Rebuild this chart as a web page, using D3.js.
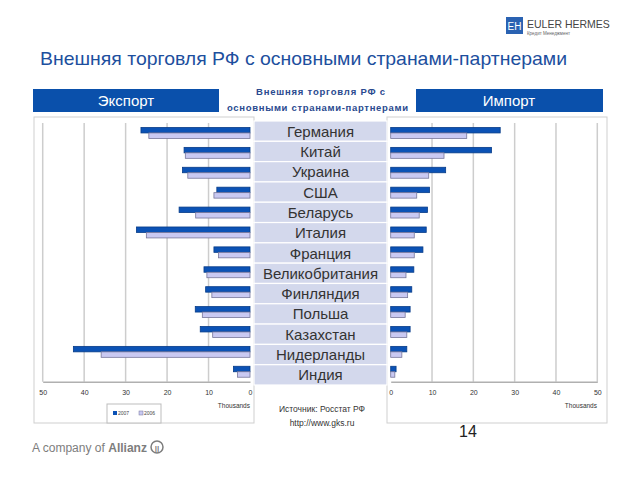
<!DOCTYPE html>
<html><head><meta charset="utf-8">
<script src="https://cdn.jsdelivr.net/npm/d3@7"></script>
<style>body{margin:0;background:#fff}svg{display:block;font-family:Arial,"Liberation Sans",sans-serif}</style>
</head><body>
<script>
const countries = ["Германия","Китай","Украина","США","Беларусь","Италия","Франция","Великобритания","Финляндия","Польша","Казахстан","Нидерланды","Индия"];
const export2007 = [26.3,15.9,16.3,8.0,17.1,27.4,8.7,11.1,10.7,13.2,12.0,42.6,4.0];
const export2006 = [24.4,15.6,15.0,8.7,13.1,25.0,7.6,10.4,9.2,11.5,9.0,35.9,3.0];
const import2007 = [26.5,24.4,13.3,9.4,8.9,8.6,7.8,5.6,5.1,4.7,4.7,3.9,1.3];
const import2006 = [18.4,12.9,9.2,6.3,6.9,5.7,5.7,3.7,4.1,3.5,3.9,2.7,1.0];
const years = ["2007","2006"];
const tickValues = [0,10,20,30,40,50];

const W=640,H=480;
const svg=d3.select("body").append("svg").attr("width",W).attr("height",H);
const c07="#0b52b5", c06="#c9c9f2", s07="#083c88", s06="#76769a";

// Title
svg.append("text").attr("x",40).attr("y",65).attr("font-size",19).attr("fill","#1d4f9e")
  .attr("textLength",527).attr("lengthAdjust","spacingAndGlyphs")
  .text("Внешняя торговля РФ с основными странами-партнерами");

// Euler Hermes logo
svg.append("rect").attr("x",506).attr("y",17).attr("width",17).attr("height",17).attr("fill","#2a62b2");
svg.append("text").attr("x",514.5).attr("y",30).attr("text-anchor","middle").attr("font-size",10).attr("fill","#fff").text("EH");
svg.append("text").attr("x",527).attr("y",28).attr("font-size",10.5).attr("fill","#444").text("EULER HERMES");
svg.append("text").attr("x",527).attr("y",35).attr("font-size",4.5).attr("fill","#666").text("Кредит Менеджмент");

// headers
svg.append("rect").attr("x",33).attr("y",89).attr("width",186).attr("height",23).attr("fill","#0a50ab");
svg.append("text").attr("x",126).attr("y",106).attr("text-anchor","middle").attr("font-size",15).attr("fill","#fff").text("Экспорт");
svg.append("rect").attr("x",416).attr("y",89).attr("width",187).attr("height",23).attr("fill","#0a50ab");
svg.append("text").attr("x",509).attr("y",106).attr("text-anchor","middle").attr("font-size",15).attr("fill","#fff").text("Импорт");
svg.append("text").attr("x",256).attr("y",95).attr("font-size",9.5).attr("font-weight","bold").attr("fill","#2a4a8f")
  .attr("textLength",129).attr("lengthAdjust","spacing").text("Внешняя торговля РФ с");
svg.append("text").attr("x",227).attr("y",111).attr("font-size",9.5).attr("font-weight","bold").attr("fill","#2a4a8f")
  .attr("textLength",181).attr("lengthAdjust","spacing").text("основными странами-партнерами");

// frames
svg.append("rect").attr("x",34).attr("y",117).attr("width",220).attr("height",306).attr("fill","none").attr("stroke","#cfcfcf");
svg.append("rect").attr("x",387).attr("y",117).attr("width",220).attr("height",306).attr("fill","none").attr("stroke","#cfcfcf");

const plotTop=123, plotBottom=381.7;
const y=d3.scaleBand().domain(countries).range([plotTop,plotBottom]);
const sub=d3.scaleBand().domain(years).range([y.bandwidth()*0.225,y.bandwidth()*0.775]);

function panel(xScale, v07, v06, thousandsX){
  const g=svg.append("g");
  g.selectAll(".grid").data(tickValues.filter(d=>d!==0)).enter().append("line")
    .attr("x1",d=>xScale(d)).attr("x2",d=>xScale(d)).attr("y1",plotTop).attr("y2",plotBottom)
    .attr("stroke","#cdcdcd").attr("stroke-width",1.5);
  const series=[{k:"2007",v:v07,f:c07,s:s07},{k:"2006",v:v06,f:c06,s:s06}];
  series.forEach(sr=>{
    g.selectAll(null).data(countries).enter().append("rect")
      .attr("x",(d,i)=>Math.min(xScale(0),xScale(sr.v[i])))
      .attr("width",(d,i)=>Math.abs(xScale(sr.v[i])-xScale(0)))
      .attr("y",d=>y(d)+sub(sr.k)).attr("height",sub.bandwidth())
      .attr("fill",sr.f).attr("stroke",sr.s).attr("stroke-width",0.8);
  });
  const ax=g.append("g").attr("transform",`translate(0,${plotBottom})`)
    .call(d3.axisBottom(xScale).tickValues(tickValues).tickSize(0).tickPadding(8));
  ax.select(".domain").attr("stroke","#b0b0b0").attr("stroke-width",1.5);
  ax.selectAll("text").attr("font-size",7).attr("fill","#333").attr("font-family","Arial Narrow,Liberation Sans Narrow,Arial,sans-serif");
  g.append("text").attr("x",thousandsX).attr("y",408).attr("text-anchor","end").attr("font-size",6.5)
    .attr("fill","#333").attr("font-family","Liberation Sans Narrow,Arial,sans-serif").text("Thousands");
}
const xL=d3.scaleLinear().domain([0,50]).range([250,42.7]);
const xR=d3.scaleLinear().domain([0,50]).range([390.7,597.3]);
panel(xL,export2007,export2006,250);
panel(xR,import2007,import2006,597);

// legend
svg.append("rect").attr("x",107).attr("y",404).attr("width",54).attr("height",19).attr("fill","#fff").attr("stroke","#bdbdbd");
svg.append("rect").attr("x",113).attr("y",411).attr("width",4).attr("height",4).attr("fill",c07);
svg.append("text").attr("x",118).attr("y",415).attr("font-size",5).attr("fill","#444").text(years[0]);
svg.append("rect").attr("x",139).attr("y",411).attr("width",4).attr("height",4).attr("fill",c06).attr("stroke",s06).attr("stroke-width",0.5);
svg.append("text").attr("x",144).attr("y",415).attr("font-size",5).attr("fill","#444").text(years[1]);

// country label boxes
const yl=d3.scaleBand().domain(countries).range([121,385]);
const lg=svg.append("g");
lg.selectAll("rect").data(countries).enter().append("rect")
  .attr("x",254).attr("y",d=>yl(d)).attr("width",133).attr("height",yl.bandwidth())
  .attr("fill","#d3d8ec").attr("stroke","#fff").attr("stroke-width",1.2);
lg.selectAll("text").data(countries).enter().append("text")
  .attr("x",320.5).attr("y",d=>yl(d)+yl.bandwidth()/2+5.5).attr("text-anchor","middle")
  .attr("font-size",15).attr("fill","#333").text(d=>d);

// source
svg.append("text").attr("x",322).attr("y",412).attr("text-anchor","middle").attr("font-size",8.5).attr("fill","#333").text("Источник: Росстат РФ");
svg.append("text").attr("x",322).attr("y",426).attr("text-anchor","middle").attr("font-size",8.5).attr("fill","#333").text("http://www.gks.ru");

// footer
const ft=svg.append("text").attr("x",32).attr("y",452).attr("font-size",12).attr("fill","#7d7d7d")
  .attr("textLength",115).attr("lengthAdjust","spacingAndGlyphs");
ft.append("tspan").text("A company of ");
ft.append("tspan").attr("font-weight","bold").text("Allianz");
svg.append("circle").attr("cx",157).attr("cy",447).attr("r",6).attr("fill","none").attr("stroke","#7d7d7d").attr("stroke-width",1.5);
svg.append("text").attr("x",157).attr("y",450.5).attr("text-anchor","middle").attr("font-size",8).attr("font-weight","bold").attr("fill","#7d7d7d").text("||");
svg.append("text").attr("x",459).attr("y",437).attr("font-size",16).attr("fill","#222").text("14");
</script>
</body></html>
